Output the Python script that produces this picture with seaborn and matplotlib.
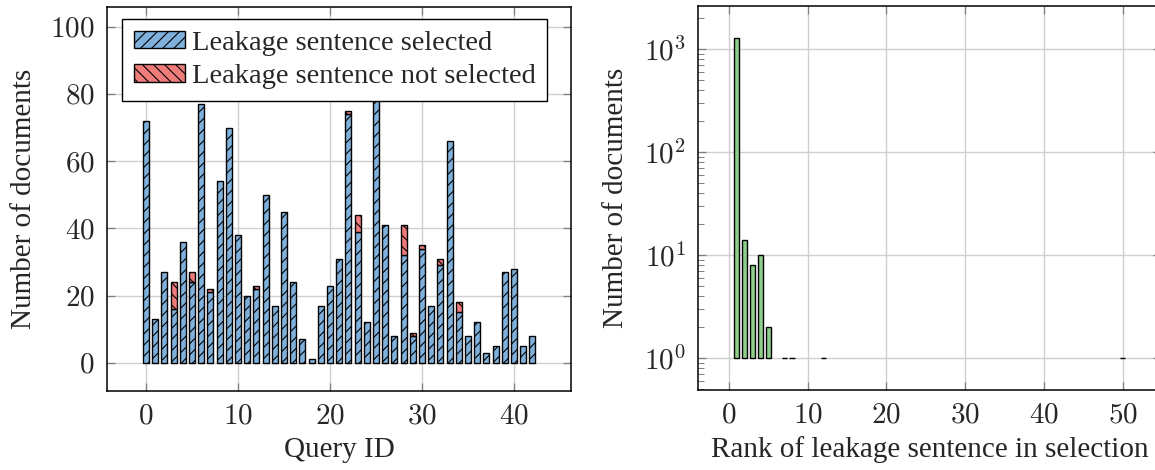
import numpy as np
import pandas as pd
import matplotlib
matplotlib.use("Agg")
import matplotlib.pyplot as plt
import seaborn as sns
from matplotlib.ticker import FixedLocator, FuncFormatter, LogLocator, NullFormatter

# ---------------- data ----------------
query_ids = list(range(43))
selected = [72, 13, 27, 16, 36, 24, 77, 21, 54, 70, 38, 20, 22, 50, 17, 45, 24, 7, 1, 17,
            23, 31, 74, 39, 12, 85, 41, 8, 32, 8, 34, 17, 29, 66, 15, 8, 12, 3, 5, 27,
            28, 5, 8]
not_selected = [0, 0, 0, 8, 0, 3, 0, 1, 0, 0, 0, 0, 1, 0, 0, 0, 0, 0, 0, 0,
                0, 0, 1, 5, 0, 0, 0, 0, 9, 1, 1, 0, 2, 0, 3, 0, 0, 0, 0, 0,
                0, 0, 0]
ranks = [1, 2, 3, 4, 5, 7, 8, 12, 50]
rank_counts = [1280, 14, 8, 10, 2, 1, 1, 1, 1]

label_selected = "Leakage sentence selected"
label_not_selected = "Leakage sentence not selected"
xlabel_left = "Query ID"
xlabel_right = "Rank of leakage sentence in selection"
ylabel = "Number of documents"

BLUE = "#80b1dc"
RED = "#f07b7b"
GREEN = "#8fcd8a"
GRID = "#cfcfcf"
TICKC = "#7f7f7f"

# ---------------- style ----------------
sns.set_theme(style="white")
plt.rcParams["font.family"] = ["Liberation Serif", "DejaVu Serif"]
plt.rcParams["mathtext.fontset"] = "cm"
plt.rcParams["hatch.linewidth"] = 0.8

FS_TICK = 21
FS_LABEL = 21
FS_LEG = 20.5

fig = plt.figure(figsize=(11.55, 4.7), dpi=100)
ax1 = fig.add_axes([107.3 / 1155, 79.3 / 470, 463.7 / 1155, 383.4 / 470])
ax2 = fig.add_axes([698.3 / 1155, 80.0 / 470, 462.8 / 1155, 384.0 / 470])

# ---------------- left: stacked bars ----------------
df1 = pd.DataFrame({"qid": query_ids, "sel": selected, "nsel": not_selected})
sns.barplot(data=df1, x="qid", y="sel", native_scale=True, width=0.65,
            color=BLUE, saturation=1, edgecolor="black", linewidth=1.0,
            hatch="///", errorbar=None, label=label_selected, ax=ax1, zorder=2)
red = df1[df1["nsel"] > 0].reset_index(drop=True)
sns.barplot(data=red, x="qid", y="nsel", native_scale=True, width=0.65,
            color=RED, saturation=1, edgecolor="black", linewidth=1.0,
            hatch="\\\\\\", errorbar=None, bottom=red["sel"].to_numpy(),
            label=label_not_selected, ax=ax1, zorder=2)

ax1.set_xlim(-4.2, 46.2)
ax1.set_ylim(-8.3, 105.8)
ax1.xaxis.set_major_locator(FixedLocator([0, 10, 20, 30, 40]))
ax1.yaxis.set_major_locator(FixedLocator([0, 20, 40, 60, 80, 100]))
fmt = FuncFormatter(lambda v, p: r"$%d$" % v)
ax1.xaxis.set_major_formatter(fmt)
ax1.yaxis.set_major_formatter(fmt)
ax1.set_xlabel(xlabel_left, fontsize=FS_LABEL)
ax1.set_ylabel(ylabel, fontsize=FS_LABEL)
ax1.xaxis.set_label_coords(0.5, -0.12)
ax1.yaxis.set_label_coords(-0.152, 0.5)

leg = ax1.legend(loc="upper left", bbox_to_anchor=(0.032, 0.9687), borderaxespad=0,
                 frameon=True, fancybox=False, framealpha=1, edgecolor="black",
                 fontsize=FS_LEG, handlelength=1.8, handleheight=0.56, handletextpad=0.25,
                 borderpad=0.4, labelspacing=0.3)
leg.get_frame().set_linewidth(1.0)
leg.set_zorder(10)

# ---------------- right: log-scale bars ----------------
df2 = pd.DataFrame({"rank": ranks, "count": rank_counts})
df2["above_base"] = df2["count"] - 1
sns.barplot(data=df2, x="rank", y="above_base", native_scale=True, width=0.65,
            color=GREEN, saturation=1, edgecolor="black", linewidth=1.0,
            bottom=1, errorbar=None, ax=ax2, zorder=2)
ax2.set_yscale("log")
lmax = np.log10(max(rank_counts))
ax2.set_ylim(10 ** (-0.1 * lmax), 10 ** (1.1 * lmax))
ax2.set_xlim(-3.9, 54.9)
ax2.xaxis.set_major_locator(FixedLocator([0, 10, 20, 30, 40, 50]))
ax2.xaxis.set_major_formatter(fmt)
ax2.yaxis.set_major_locator(LogLocator(base=10, numticks=10))
ax2.yaxis.set_major_formatter(FuncFormatter(lambda v, p: r"$10^{%d}$" % round(np.log10(v))))
ax2.yaxis.set_minor_locator(LogLocator(base=10, subs=np.arange(2, 10), numticks=20))
ax2.yaxis.set_minor_formatter(NullFormatter())
ax2.set_xlabel(xlabel_right, fontsize=FS_LABEL)
ax2.set_ylabel(ylabel, fontsize=FS_LABEL)
ax2.xaxis.set_label_coords(0.5, -0.12)
ax2.yaxis.set_label_coords(-0.15, 0.5)

for ax in (ax1, ax2):
    ax.set_axisbelow(True)
    ax.grid(True, which="major", color=GRID, linewidth=1.0, zorder=0)
    ax.grid(False, which="minor")
    ax.tick_params(which="major", direction="in", length=6, width=0.9, color=TICKC,
                   top=True, right=True, bottom=True, left=True, labelsize=FS_TICK, pad=9)
    ax.tick_params(which="minor", direction="in", length=4, width=0.7, color=TICKC,
                   left=True, right=True)
    for s in ax.spines.values():
        s.set_color("black")
        s.set_linewidth(1.1)
        s.set_visible(True)

fig.savefig("out.png", dpi=100)
